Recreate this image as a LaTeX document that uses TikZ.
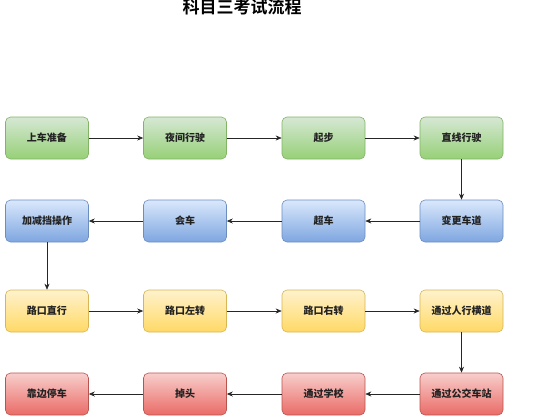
\documentclass[tikz,border=0pt]{standalone}
\usepackage{fontspec}
\newfontfamily\cjk{Noto Sans CJK SC}
\newfontfamily\cjkb{Noto Sans CJK SC Bold}
\usetikzlibrary{arrows.meta}
\definecolor{gtop}{HTML}{D5E8D4}\definecolor{gbot}{HTML}{97D077}\definecolor{gline}{HTML}{82B366}
\definecolor{btop}{HTML}{DAE8FC}\definecolor{bbot}{HTML}{7EA6E0}\definecolor{bline}{HTML}{6C8EBF}
\definecolor{ytop}{HTML}{FFF2CC}\definecolor{ybot}{HTML}{FFD966}\definecolor{yline}{HTML}{D6B656}
\definecolor{rtop}{HTML}{F8CECC}\definecolor{rbot}{HTML}{EA6B66}\definecolor{rline}{HTML}{B85450}
\definecolor{txt}{HTML}{222222}
\tikzset{
  box/.style={rounded corners=5pt, minimum width=83pt, minimum height=42pt, inner sep=0pt,
    font=\cjk\fontsize{10}{12}\selectfont\bfseries, text=txt, line width=0.6pt},
  gbox/.style={box, draw=gline, top color=gtop, bottom color=gbot},
  bbox/.style={box, draw=bline, top color=btop, bottom color=bbot},
  ybox/.style={box, draw=yline, top color=ytop, bottom color=ybot},
  rbox/.style={box, draw=rline, top color=rtop, bottom color=rbot},
  conn/.style={draw=black!85, line width=0.6pt, -{Stealth[length=6pt,width=5pt]}},
}
\begin{document}
\begin{tikzpicture}[x=1pt,y=-1pt]
\useasboundingbox (0,0) rectangle (554,416);
\node[font=\cjkb\fontsize{17}{20}\selectfont, text=black] (title) at (242,7) {科目三考试流程};
\node[gbox] (a1) at (47,138) {上车准备};
\node[gbox] (a2) at (185,138) {夜间行驶};
\node[gbox] (a3) at (323.5,138) {起步};
\node[gbox] (a4) at (461.5,138) {直线行驶};
\node[bbox] (b4) at (461.5,221) {变更车道};
\node[bbox] (b3) at (323.5,221) {超车};
\node[bbox] (b2) at (185,221) {会车};
\node[bbox] (b1) at (47,221) {加减挡操作};
\node[ybox] (c1) at (47,311) {路口直行};
\node[ybox] (c2) at (185,311) {路口左转};
\node[ybox] (c3) at (323.5,311) {路口右转};
\node[ybox] (c4) at (461.5,311) {通过人行横道};
\node[rbox] (d4) at (461.5,394) {通过公交车站};
\node[rbox] (d3) at (323.5,394) {通过学校};
\node[rbox] (d2) at (185,394) {掉头};
\node[rbox] (d1) at (47,394) {靠边停车};
\draw[conn] (a1) -- (a2);
\draw[conn] (a2) -- (a3);
\draw[conn] (a3) -- (a4);
\draw[conn] (a4) -- (b4);
\draw[conn] (b4) -- (b3);
\draw[conn] (b3) -- (b2);
\draw[conn] (b2) -- (b1);
\draw[conn] (b1) -- (c1);
\draw[conn] (c1) -- (c2);
\draw[conn] (c2) -- (c3);
\draw[conn] (c3) -- (c4);
\draw[conn] (c4) -- (d4);
\draw[conn] (d4) -- (d3);
\draw[conn] (d3) -- (d2);
\draw[conn] (d2) -- (d1);
\end{tikzpicture}
\end{document}
